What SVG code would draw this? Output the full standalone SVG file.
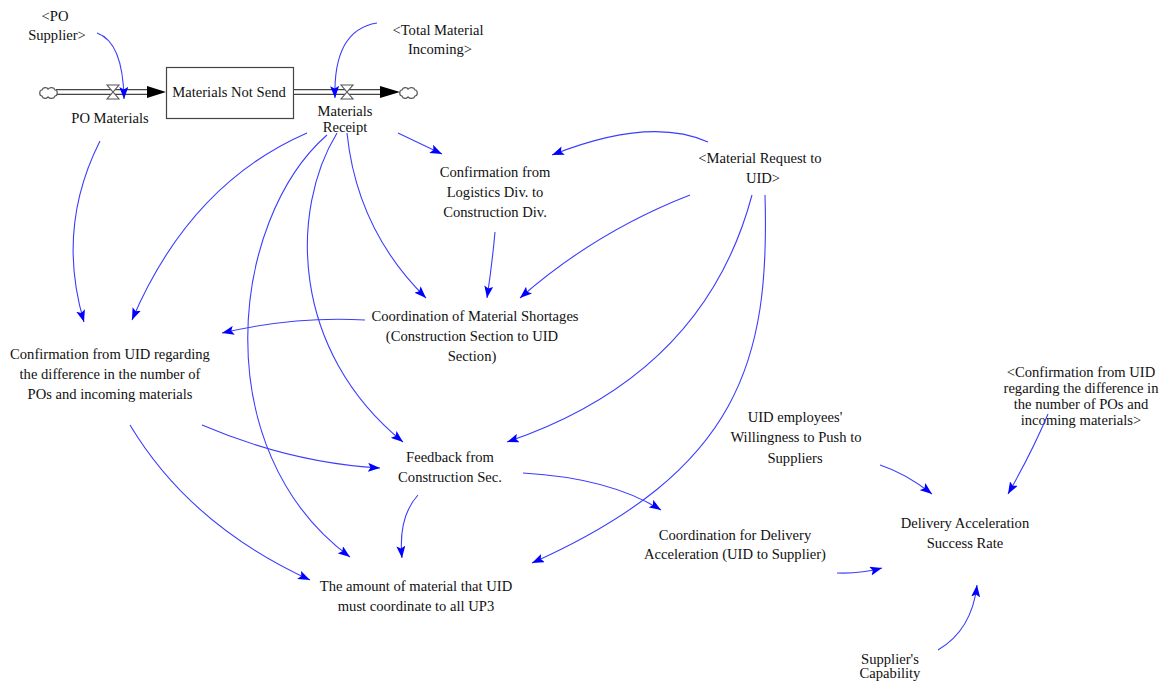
<svg xmlns="http://www.w3.org/2000/svg" width="1168" height="681" viewBox="0 0 1168 681">
  <defs>
    <style>
      .lbl { font-size: 14.6px; fill: #111; text-anchor: middle; }
      .link { fill: none; stroke: #3c3cff; stroke-width: 1.1; marker-end: url(#ah); }
      .pipe-out { stroke: #444; stroke-width: 6; fill: none; }
      .pipe-in { stroke: #fff; stroke-width: 3.4; fill: none; }
      .cloud { fill: #fff; stroke: #555; stroke-width: 1.2; }
      .valve { fill: #fff; stroke: #555; stroke-width: 1.1; }
      .flowhead { fill: #000; }
      .stock { fill: #fff; stroke: #444; stroke-width: 1.2; }
    </style>
    <marker id="ah" markerWidth="13" markerHeight="9" refX="12" refY="4.5" orient="auto" markerUnits="userSpaceOnUse">
      <path d="M0,0 L12,4.5 L0,9 L2.5,4.5 z" fill="#0000ff"/>
    </marker>
  </defs>
  <rect width="1168" height="681" fill="#fff"/>

  <g class="lbl" font-family="Liberation Serif, DejaVu Serif, serif">
  <!-- Stock and flow chain -->
  <g id="po-materials-flow">
    <line class="pipe-out" x1="56" y1="92" x2="150" y2="92"/>
    <line class="pipe-in" x1="56" y1="92" x2="150" y2="92"/>
    <path class="cloud" d="M42,96 c-3,0 -3,-6 0,-6 c1,-3 5,-3 6,-1 c2,-2 6,-2 7,1 c3,0 3,6 0,6 c-1,3 -5,3 -7,1 c-2,2 -5,2 -6,-1 z"/>
    <path class="valve" d="M107,85 L119,85 L107,99 L119,99 Z"/>
    <polygon class="flowhead" points="147,86 166,92 147,98"/>
    <text x="110" y="123">PO Materials</text>
  </g>

  <g id="materials-not-send">
    <rect class="stock" x="166.5" y="67.5" width="127" height="51"/>
    <text x="229" y="97">Materials Not Send</text>
  </g>

  <g id="materials-receipt-flow">
    <line class="pipe-out" x1="294" y1="92" x2="382" y2="92"/>
    <line class="pipe-in" x1="294" y1="92" x2="382" y2="92"/>
    <path class="valve" d="M341,85 L353,85 L341,99 L353,99 Z"/>
    <polygon class="flowhead" points="380,86 400,92 380,98"/>
    <path class="cloud" d="M402,96 c-3,0 -3,-6 0,-6 c1,-3 5,-3 6,-1 c2,-2 6,-2 7,1 c3,0 3,6 0,6 c-1,3 -5,3 -7,1 c-2,2 -5,2 -6,-1 z"/>
    <text x="345" y="116">Materials</text>
    <text x="345" y="132">Receipt</text>
  </g>

  <!-- Variables -->
  <g id="po-supplier">
    <text x="55" y="21">&lt;PO</text>
    <text x="57" y="40">Supplier&gt;</text>
  </g>
  <g id="total-material-incoming">
    <text x="438" y="35">&lt;Total Material</text>
    <text x="440" y="54">Incoming&gt;</text>
  </g>
  <g id="confirmation-logistics">
    <text x="495" y="177">Confirmation from</text>
    <text x="495" y="197">Logistics Div. to</text>
    <text x="495" y="217">Construction Div.</text>
  </g>
  <g id="material-request">
    <text x="760" y="163">&lt;Material Request to</text>
    <text x="763" y="183">UID&gt;</text>
  </g>
  <g id="coordination-shortages">
    <text x="475" y="321">Coordination of Material Shortages</text>
    <text x="472" y="341">(Construction Section to UID</text>
    <text x="472" y="361">Section)</text>
  </g>
  <g id="confirmation-uid">
    <text x="110" y="359">Confirmation from UID regarding</text>
    <text x="110" y="379">the difference in the number of</text>
    <text x="110" y="399">POs and incoming materials</text>
  </g>
  <g id="feedback-construction">
    <text x="450" y="462">Feedback from</text>
    <text x="450" y="482">Construction Sec.</text>
  </g>
  <g id="amount-to-coordinate">
    <text x="416" y="591">The amount of material that UID</text>
    <text x="416" y="611">must coordinate to all UP3</text>
  </g>
  <g id="coordination-delivery">
    <text x="735" y="540">Coordination for Delivery</text>
    <text x="735" y="559">Acceleration (UID to Supplier)</text>
  </g>
  <g id="uid-willingness">
    <text x="795" y="422">UID employees'</text>
    <text x="796" y="442">Willingness to Push to</text>
    <text x="795" y="463">Suppliers</text>
  </g>
  <g id="confirmation-uid-shadow">
    <text x="1081" y="377">&lt;Confirmation from UID</text>
    <text x="1081" y="393">regarding the difference in</text>
    <text x="1081" y="409">the number of POs and</text>
    <text x="1081" y="425">incoming materials&gt;</text>
  </g>
  <g id="delivery-success-rate">
    <text x="965" y="528">Delivery Acceleration</text>
    <text x="965" y="548">Success Rate</text>
  </g>
  <g id="supplier-capability">
    <text x="890" y="664">Supplier's</text>
    <text x="890" y="678">Capability</text>
  </g>
  </g>

  <!-- Causal links -->
  <g id="connectors">
    <path class="link" d="M97,33 Q123,42 124,99"/>
    <path class="link" d="M377,23 Q333,30 335,98"/>
    <path class="link" d="M100,141 Q56,228 84,322"/>
    <path class="link" d="M307,133 Q190,184 132,320"/>
    <path class="link" d="M398,133 L442,154"/>
    <path class="link" d="M708,142 Q650,116 552,155"/>
    <path class="link" d="M347,133 Q357,230 426,298"/>
    <path class="link" d="M495,232 Q492,265 487,298"/>
    <path class="link" d="M690,195 Q595,232 520,298"/>
    <path class="link" d="M365,320 Q295,316 222,333"/>
    <path class="link" d="M337,133 C290,210 290,350 403,442"/>
    <path class="link" d="M327,135 C230,220 205,450 350,557"/>
    <path class="link" d="M752,195 Q704,375 507,442"/>
    <path class="link" d="M765,195 C770,360 740,470 532,563"/>
    <path class="link" d="M202,425 Q291,463 380,468"/>
    <path class="link" d="M130,425 Q190,525 310,580"/>
    <path class="link" d="M418,495 Q398,517 402,558"/>
    <path class="link" d="M523,473 Q610,478 661,510"/>
    <path class="link" d="M837,573 Q860,574 882,568"/>
    <path class="link" d="M880,465 Q905,473 932,494"/>
    <path class="link" d="M1048,414 Q1032,452 1008,494"/>
    <path class="link" d="M938,650 Q972,630 977,585"/>
  </g>
</svg>
